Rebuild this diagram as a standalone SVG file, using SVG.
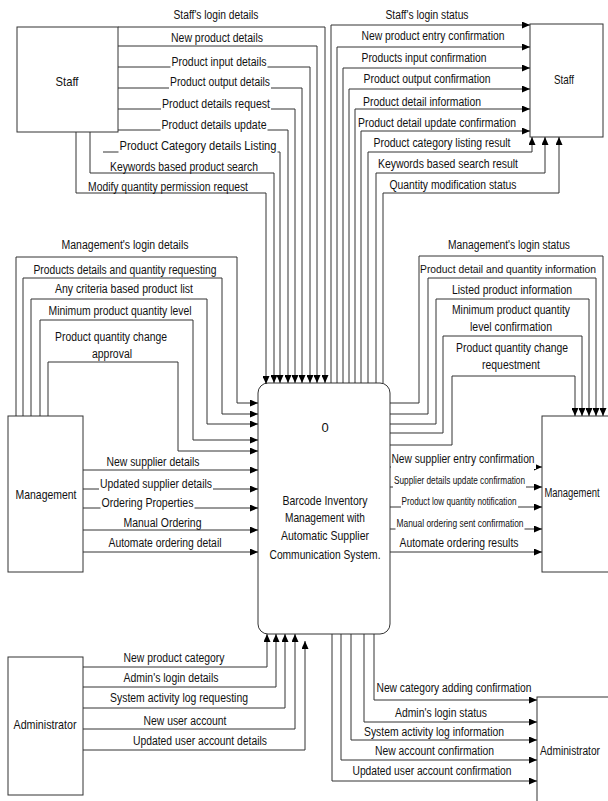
<svg xmlns="http://www.w3.org/2000/svg" width="608" height="801" viewBox="0 0 608 801">
<style>
.ln{fill:none;stroke:#333;stroke-width:1}
.box{fill:#fff;stroke:#333;stroke-width:1}
text{font-family:"Liberation Sans Narrow","Liberation Sans",Arial,sans-serif;font-size:12px;fill:#111;text-anchor:middle}
.nl{font-size:13px}
.nr{font-size:12px}
.sm{font-size:10px}
.bg{fill:#fff;stroke:none}
</style>
<defs>
<marker id="ah" markerUnits="userSpaceOnUse" markerWidth="8" markerHeight="7" refX="8" refY="3.5" orient="auto">
<path d="M0,0 L8,3.5 L0,7 z" fill="#000"/>
</marker>
</defs>
<rect width="608" height="801" fill="#fff"/>

<g id="nodes">
<g id="staff-left"><rect class="box" x="17" y="27" width="101" height="105"/><text class="nl" x="67" y="86" textLength="23" lengthAdjust="spacingAndGlyphs">Staff</text></g>
<g id="staff-right"><rect class="box" x="530" y="24" width="73" height="113"/><text class="nl" x="564" y="84" textLength="20" lengthAdjust="spacingAndGlyphs">Staff</text></g>
<g id="management-left"><rect class="box" x="8" y="416" width="75" height="156"/><text class="nl" x="46" y="499" textLength="61" lengthAdjust="spacingAndGlyphs">Management</text></g>
<g id="management-right"><rect class="box" x="542" y="416" width="72" height="156"/><text class="nr" x="572" y="497" textLength="55" lengthAdjust="spacingAndGlyphs">Management</text></g>
<g id="admin-left"><rect class="box" x="8" y="657" width="75" height="138"/><text class="nl" x="45" y="729" textLength="63" lengthAdjust="spacingAndGlyphs">Administrator</text></g>
<g id="admin-right"><rect class="box" x="537" y="697" width="77" height="115"/><text class="nr" x="570" y="755" textLength="60" lengthAdjust="spacingAndGlyphs">Administrator</text></g>
<g id="process"><rect class="box" x="258" y="383" width="132" height="251" rx="10" ry="10"/>
<text class="nl" x="325" y="432">0</text>
<text class="nl" x="325" y="505" textLength="85" lengthAdjust="spacingAndGlyphs">Barcode Inventory</text>
<text class="nl" x="325" y="522" textLength="80" lengthAdjust="spacingAndGlyphs">Management with</text>
<text class="nl" x="325" y="540" textLength="88" lengthAdjust="spacingAndGlyphs">Automatic Supplier</text>
<text class="nl" x="325" y="559" textLength="111" lengthAdjust="spacingAndGlyphs">Communication System.</text>
</g>
</g>

<g id="connectors">
<!-- Staff inputs -->
<path class="ln" marker-end="url(#ah)" d="M118,27 H325 V383"/>
<path class="ln" marker-end="url(#ah)" d="M118,46 H317 V383"/>
<path class="ln" marker-end="url(#ah)" d="M118,67 H310 V383"/>
<path class="ln" marker-end="url(#ah)" d="M118,88 H302 V383"/>
<path class="ln" marker-end="url(#ah)" d="M118,109 H295 V383"/>
<path class="ln" marker-end="url(#ah)" d="M118,130 H288 V383"/>
<path class="ln" marker-end="url(#ah)" d="M103,152 H280 V383"/>
<path class="ln" marker-end="url(#ah)" d="M90,132 V173 H274 V383"/>
<path class="ln" marker-end="url(#ah)" d="M76,132 V193 H266 V384"/>
<!-- Staff outputs -->
<path class="ln" marker-end="url(#ah)" d="M331,383 V25 H530"/>
<path class="ln" marker-end="url(#ah)" d="M337,383 V47 H530"/>
<path class="ln" marker-end="url(#ah)" d="M343,383 V68 H530"/>
<path class="ln" marker-end="url(#ah)" d="M349,383 V89 H530"/>
<path class="ln" marker-end="url(#ah)" d="M355,383 V109 H530"/>
<path class="ln" marker-end="url(#ah)" d="M361,383 V131 H530"/>
<path class="ln" marker-end="url(#ah)" d="M368,383 V152 H532 V137"/>
<path class="ln" marker-end="url(#ah)" d="M376,383 V173 H545 V137"/>
<path class="ln" marker-end="url(#ah)" d="M383,383 V193 H559 V137"/>
<!-- Management inputs -->
<path class="ln" marker-end="url(#ah)" d="M16,416 V257 H237 V403 H258"/>
<path class="ln" marker-end="url(#ah)" d="M23,416 V278 H222 V414 H258"/>
<path class="ln" marker-end="url(#ah)" d="M31,416 V299 H207 V424 H258"/>
<path class="ln" marker-end="url(#ah)" d="M40,416 V320 H193 V440 H258"/>
<path class="ln" marker-end="url(#ah)" d="M48,416 V362 H178 V451 H258"/>
<path class="ln" marker-end="url(#ah)" d="M83,470 H258"/>
<path class="ln" marker-end="url(#ah)" d="M83,489 H258"/>
<path class="ln" marker-end="url(#ah)" d="M83,508 H258"/>
<path class="ln" marker-end="url(#ah)" d="M83,530 H258"/>
<path class="ln" marker-end="url(#ah)" d="M83,552 H258"/>
<!-- Management outputs -->
<path class="ln" marker-end="url(#ah)" d="M390,403 H419 V256 H603 V416"/>
<path class="ln" marker-end="url(#ah)" d="M390,414 H428 V278 H596 V416"/>
<path class="ln" marker-end="url(#ah)" d="M390,424 H436 V299 H589 V416"/>
<path class="ln" marker-end="url(#ah)" d="M390,433 H443 V336 H582 V416"/>
<path class="ln" marker-end="url(#ah)" d="M390,445 H452 V376 H575 V416"/>
<path class="ln" marker-end="url(#ah)" d="M390,467 H542"/>
<path class="ln" marker-end="url(#ah)" d="M390,487 H542"/>
<path class="ln" marker-end="url(#ah)" d="M390,507 H542"/>
<path class="ln" marker-end="url(#ah)" d="M390,529 H542"/>
<path class="ln" marker-end="url(#ah)" d="M390,552 H542"/>
<!-- Administrator inputs -->
<path class="ln" marker-end="url(#ah)" d="M83,667 H267 V634"/>
<path class="ln" marker-end="url(#ah)" d="M83,687 H276 V634"/>
<path class="ln" marker-end="url(#ah)" d="M83,708 H285 V634"/>
<path class="ln" marker-end="url(#ah)" d="M83,729 H295 V634"/>
<path class="ln" marker-end="url(#ah)" d="M83,750 H305 V641"/>
<!-- Administrator outputs -->
<path class="ln" marker-end="url(#ah)" d="M374,634 V700 H537"/>
<path class="ln" marker-end="url(#ah)" d="M364,634 V722 H537"/>
<path class="ln" marker-end="url(#ah)" d="M351,634 V740 H537"/>
<path class="ln" marker-end="url(#ah)" d="M341,634 V760 H537"/>
<path class="ln" marker-end="url(#ah)" d="M332,634 V781 H537"/>
</g>

<g id="labels">
<text x="216" y="19" textLength="85" lengthAdjust="spacingAndGlyphs">Staff's login details</text>
<text x="217" y="42" textLength="92" lengthAdjust="spacingAndGlyphs">New product details</text>
<rect class="bg" x="170.5" y="55" width="97" height="13"/>
<text x="219" y="66" textLength="95" lengthAdjust="spacingAndGlyphs">Product input details</text>
<rect class="bg" x="169" y="75" width="102" height="14"/>
<text x="220" y="86" textLength="100" lengthAdjust="spacingAndGlyphs">Product output details</text>
<rect class="bg" x="161" y="97" width="110" height="13"/>
<text x="216" y="108" textLength="108" lengthAdjust="spacingAndGlyphs">Product details request</text>
<rect class="bg" x="160.5" y="118" width="107" height="13"/>
<text x="214" y="129" textLength="105" lengthAdjust="spacingAndGlyphs">Product details update</text>
<rect class="bg" x="118.5" y="139" width="159" height="14"/>
<text x="198" y="150" textLength="157" lengthAdjust="spacingAndGlyphs">Product Category details Listing</text>
<text x="184" y="171" textLength="148" lengthAdjust="spacingAndGlyphs">Keywords based product search</text>
<text x="168" y="191" textLength="160" lengthAdjust="spacingAndGlyphs">Modify quantity permission request</text>

<text x="427" y="19" textLength="83" lengthAdjust="spacingAndGlyphs">Staff's login status</text>
<text x="433" y="40" textLength="143" lengthAdjust="spacingAndGlyphs">New product entry confirmation</text>
<text x="424" y="62" textLength="125" lengthAdjust="spacingAndGlyphs">Products input confirmation</text>
<text x="427" y="83" textLength="127" lengthAdjust="spacingAndGlyphs">Product output confirmation</text>
<text x="422" y="106" textLength="118" lengthAdjust="spacingAndGlyphs">Product detail information</text>
<text x="437" y="127" textLength="158" lengthAdjust="spacingAndGlyphs">Product detail update confirmation</text>
<text x="442" y="147" textLength="137" lengthAdjust="spacingAndGlyphs">Product category listing result</text>
<text x="448" y="168" textLength="140" lengthAdjust="spacingAndGlyphs">Keywords based search result</text>
<text x="453" y="189" textLength="127" lengthAdjust="spacingAndGlyphs">Quantity modification status</text>

<text x="125" y="249" textLength="127" lengthAdjust="spacingAndGlyphs">Management's login details</text>
<text x="125" y="274" textLength="183" lengthAdjust="spacingAndGlyphs">Products details and quantity requesting</text>
<text x="124" y="293" textLength="138" lengthAdjust="spacingAndGlyphs">Any criteria based product list</text>
<text x="120" y="315" textLength="143" lengthAdjust="spacingAndGlyphs">Minimum product quantity level</text>
<text x="111" y="341" textLength="112" lengthAdjust="spacingAndGlyphs">Product quantity change</text>
<text x="112" y="358" textLength="40" lengthAdjust="spacingAndGlyphs">approval</text>
<text x="153" y="466" textLength="93" lengthAdjust="spacingAndGlyphs">New supplier details</text>
<rect class="bg" x="99" y="477" width="114" height="14"/>
<text x="156" y="488" textLength="112" lengthAdjust="spacingAndGlyphs">Updated supplier details</text>
<rect class="bg" x="100.5" y="496" width="94" height="14"/>
<text x="147.5" y="507" textLength="92" lengthAdjust="spacingAndGlyphs">Ordering Properties</text>
<text x="162.5" y="527" textLength="78" lengthAdjust="spacingAndGlyphs">Manual Ordering</text>
<text x="165" y="547" textLength="113" lengthAdjust="spacingAndGlyphs">Automate ordering detail</text>

<text x="509" y="249" textLength="122" lengthAdjust="spacingAndGlyphs">Management's login status</text>
<text style="font-size:11.5px" x="508" y="273" textLength="176" lengthAdjust="spacingAndGlyphs">Product detail and quantity information</text>
<text x="512" y="294" textLength="120" lengthAdjust="spacingAndGlyphs">Listed product information</text>
<text x="511" y="314" textLength="118" lengthAdjust="spacingAndGlyphs">Minimum product quantity</text>
<text x="511" y="331" textLength="82" lengthAdjust="spacingAndGlyphs">level confirmation</text>
<text x="512" y="352" textLength="112" lengthAdjust="spacingAndGlyphs">Product quantity change</text>
<text x="511" y="369" textLength="58" lengthAdjust="spacingAndGlyphs">requestment</text>
<rect class="bg" x="391" y="452" width="145" height="17"/>
<text x="463" y="463" textLength="143" lengthAdjust="spacingAndGlyphs">New supplier entry confirmation</text>
<rect class="bg" x="393" y="474" width="133" height="15"/>
<text class="sm" x="459.5" y="483.5" textLength="131" lengthAdjust="spacingAndGlyphs">Supplier details update confirmation</text>
<rect class="bg" x="401" y="495" width="117" height="14"/>
<text class="sm" x="459" y="504.5" textLength="115" lengthAdjust="spacingAndGlyphs">Product low quantity notification</text>
<rect class="bg" x="395.5" y="517" width="129" height="14"/>
<text class="sm" x="460" y="526.5" textLength="127" lengthAdjust="spacingAndGlyphs">Manual ordering sent confirmation</text>
<text x="459" y="547" textLength="119" lengthAdjust="spacingAndGlyphs">Automate ordering results</text>

<text x="174" y="662" textLength="101" lengthAdjust="spacingAndGlyphs">New product category</text>
<text x="171" y="682" textLength="95" lengthAdjust="spacingAndGlyphs">Admin's login details</text>
<text x="179" y="702" textLength="138" lengthAdjust="spacingAndGlyphs">System activity log requesting</text>
<text x="185" y="725" textLength="83" lengthAdjust="spacingAndGlyphs">New user account</text>
<text x="200" y="745" textLength="134" lengthAdjust="spacingAndGlyphs">Updated user account details</text>

<text x="454" y="692" textLength="155" lengthAdjust="spacingAndGlyphs">New category adding confirmation</text>
<text x="441" y="717" textLength="92" lengthAdjust="spacingAndGlyphs">Admin's login status</text>
<text x="434" y="736" textLength="140" lengthAdjust="spacingAndGlyphs">System activity log information</text>
<text x="434.5" y="755" textLength="119" lengthAdjust="spacingAndGlyphs">New account confirmation</text>
<text x="432" y="775" textLength="159" lengthAdjust="spacingAndGlyphs">Updated user account confirmation</text>
</g>
</svg>
